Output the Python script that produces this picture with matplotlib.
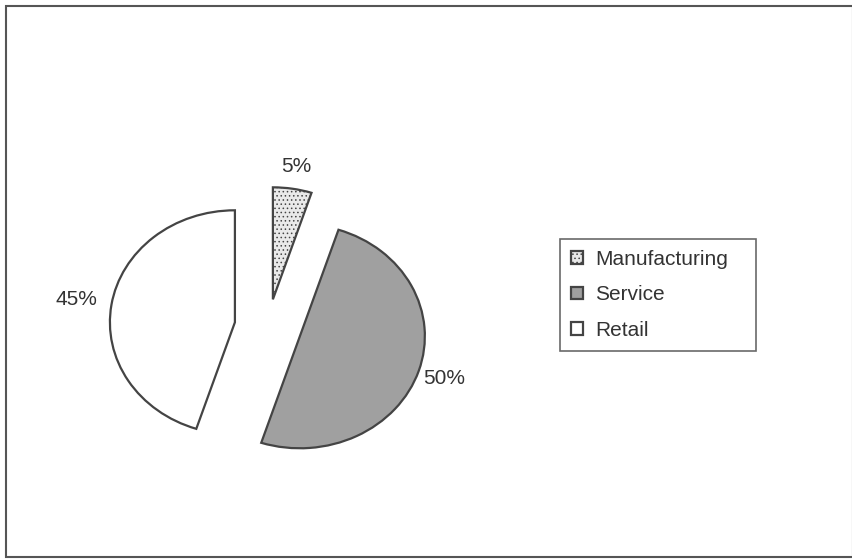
import matplotlib
matplotlib.use("Agg")
import matplotlib.pyplot as plt
import numpy as np
from matplotlib.patches import Rectangle

categories = ["Manufacturing", "Service", "Retail"]
shares = [5, 50, 45]
pct_labels = ["5%", "50%", "45%"]

colors = ["#e9e9e9", "#a0a0a0", "#ffffff"]
hatches = ["....", "", ""]
explode = [0.25, 0.268, 0.268]
label_dist = [1.20, 1.21, 1.28]

plt.rcParams["font.family"] = ["Liberation Sans", "DejaVu Sans"]
plt.rcParams["hatch.color"] = "#8a8a8a"
plt.rcParams["hatch.linewidth"] = 0.6

W, H = 852, 559
fig = plt.figure(figsize=(W / 100, H / 100), dpi=100)
fig.patch.set_facecolor("white")

RX, RY = 125.0, 112.0      # pie radius in px (scan is slightly stretched horizontally)
cx, cy = 268.0, 327.0      # pie centre in px (from top-left)
ax = fig.add_axes([0, 0, 1, 1])
wedges, _ = ax.pie(shares, colors=colors, explode=explode, startangle=90,
                   counterclock=False, radius=1.0,
                   wedgeprops=dict(edgecolor="#444444", linewidth=1.6))
for w, h in zip(wedges, hatches):
    if h:
        w.set_hatch(h)
ax.set_xlim(-cx / RX, (W - cx) / RX)
ax.set_ylim(-(H - cy) / RY, cy / RY)
ax.set_aspect("auto")
ax.axis("off")

for w, lab, d in zip(wedges, pct_labels, label_dist):
    ang = np.deg2rad((w.theta1 + w.theta2) / 2)
    c = w.center
    ax.text(c[0] + d * np.cos(ang), c[1] + d * np.sin(ang), lab,
            ha="center", va="center", fontsize=15, color="#333333")

leg = ax.legend(wedges, categories, loc="center left", mode="expand",
                bbox_to_anchor=(560 / W, 1 - 295 / H, 196 / W, 0),
                bbox_transform=fig.transFigure,
                fontsize=15, frameon=True, fancybox=False,
                handlelength=0.55, handleheight=0.55, handletextpad=0.6,
                labelspacing=0.79, borderpad=0.55, borderaxespad=0)
frame = leg.get_frame()
frame.set_edgecolor("#444444")
frame.set_linewidth(1.2)
for t in leg.get_texts():
    t.set_color("#333333")

fig.patches.append(Rectangle((6 / W, 2 / H), (W - 5) / W, (H - 8) / H,
                             transform=fig.transFigure, fill=False,
                             edgecolor="#555555", linewidth=1.5))

fig.savefig("out.png", dpi=100)
